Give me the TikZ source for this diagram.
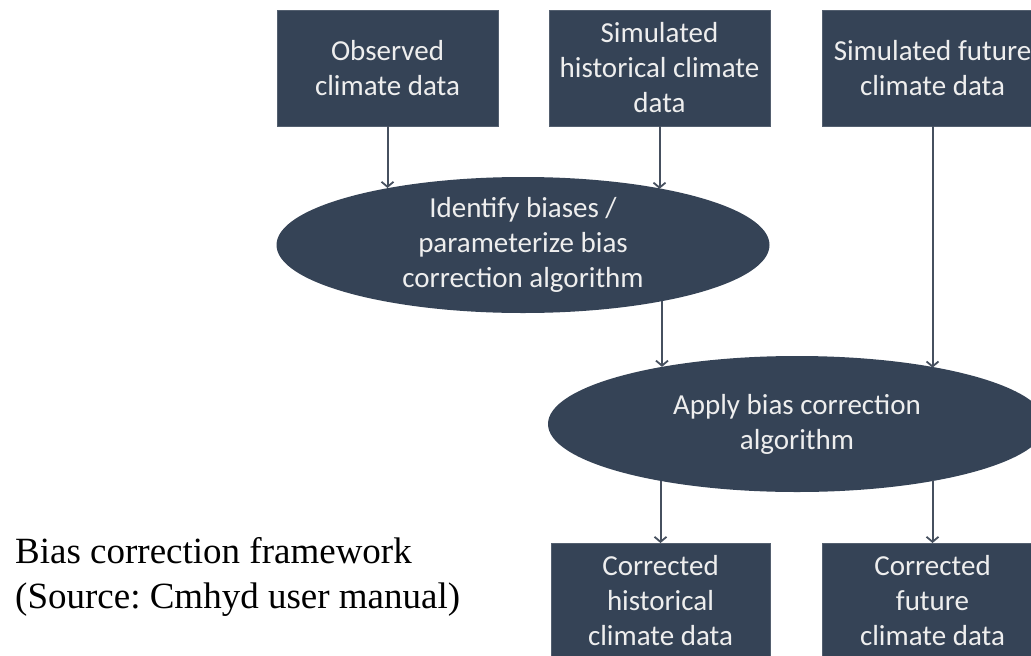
\documentclass[tikz,border=0pt]{standalone}
\usepackage{fontspec}
\setmainfont{Carlito}
\newfontfamily\capfont{Liberation Serif}
\usetikzlibrary{shapes.geometric,arrows.meta}
\frenchspacing
\definecolor{boxfill}{RGB}{53,67,86}
\definecolor{boxtext}{RGB}{238,238,238}
\definecolor{arrowcol}{RGB}{70,80,95}
\tikzset{
  databox/.style={rectangle, fill=boxfill, draw=boxfill!85!white, line width=0.6pt, text=boxtext,
    minimum width=221pt, minimum height=116pt, inner sep=0pt, outer sep=0pt, align=center,
    font=\fontsize{29}{35}\selectfont},
  procell/.style={ellipse, fill=boxfill, text=boxtext, inner sep=0pt, outer sep=0pt,
    align=center, font=\fontsize{29}{35}\selectfont},
  arr/.style={draw=arrowcol, line width=2pt, -{Straight Barb[length=5pt,width=12pt,line width=1.8pt]}},
  captext/.style={anchor=base west, inner sep=0pt, font=\capfont\fontsize{37}{45}\selectfont, text=black}
}
\begin{document}
\begin{tikzpicture}[x=1pt,y=-1pt]
\clip (0,0) rectangle (1031,656);
\fill[white] (0,0) rectangle (1031,656);
% top boxes
\node[databox] (obs) at (387.5,68) {Observed\\climate data};
\node[databox] (sh) at (659.5,68) {Simulated\\historical climate\\data};
\node[databox] (sf) at (932.5,68) {Simulated future\\climate data};
% ellipses
\node[procell, minimum width=493pt, minimum height=136pt] (e1) at (523,245)
  {Identify biases /\\parameterize bias\\correction algorithm};
\node[procell, minimum width=498pt, minimum height=136pt] (e2) at (797,424)
  {Apply bias correction\\algorithm};
% bottom boxes
\node[databox, minimum width=219pt] (ch) at (660.5,601) {Corrected\\historical\\climate data};
\node[databox] (cf) at (932.5,601) {Corrected\\future\\climate data};
% connectors
\draw[arr] (obs.south) -- (obs.south |- e1.157.1);
\draw[arr] (sh.south) -- (sh.south |- e1.22.5);
\draw[arr] (e1.-22) -- (e1.-22 |- e2.157.1);
\draw[arr] (sf.south) -- (sf.south |- e2.22.9);
\draw[arr] (ch.north |- e2.-157.1) -- (ch.north);
\draw[arr] (cf.north |- e2.-22.9) -- (cf.north);
% caption
\node[captext] (cap1) at (15,563) {Bias correction framework};
\node[captext] (cap2) at (15,608) {(Source: Cmhyd user manual)};
\end{tikzpicture}
\end{document}
